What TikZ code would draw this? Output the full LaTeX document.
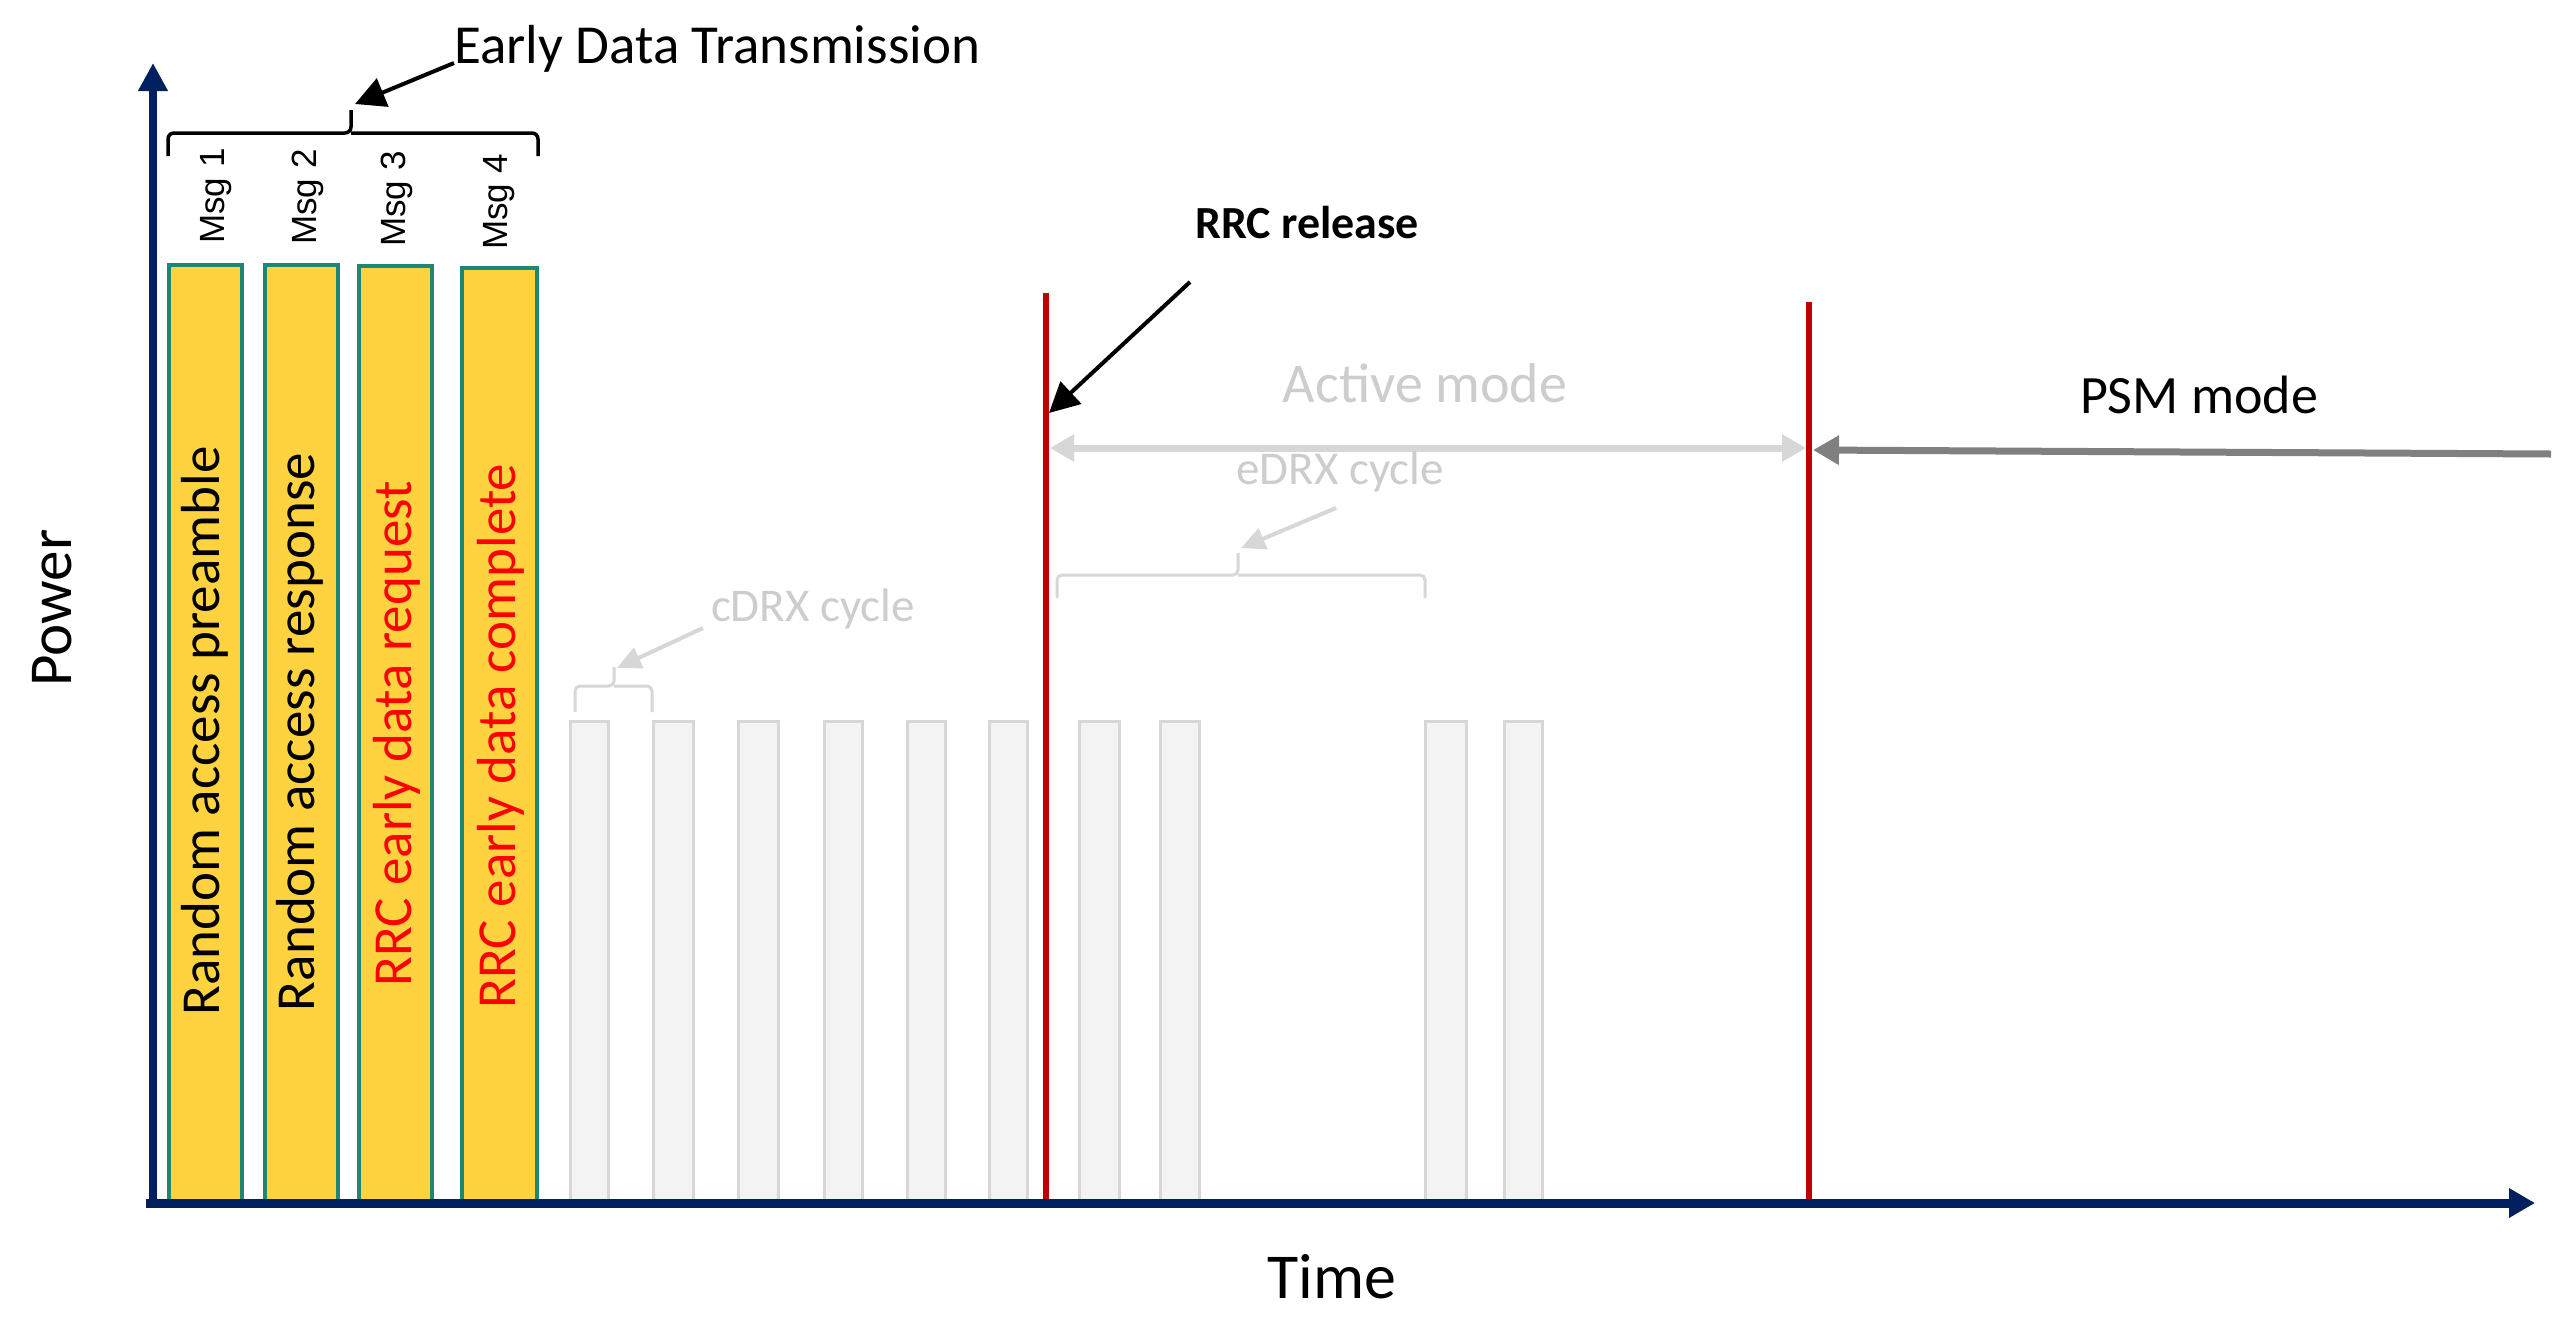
\documentclass[tikz,border=0pt]{standalone}
\usepackage{fontspec}
\setmainfont{Carlito}
\newfontfamily\arialf{Liberation Sans}
\usetikzlibrary{arrows.meta}
\definecolor{navy}{RGB}{0,32,96}
\definecolor{ybar}{RGB}{255,210,64}
\definecolor{tealb}{RGB}{30,135,115}
\definecolor{rrcred}{RGB}{192,0,0}
\definecolor{lgray}{RGB}{215,215,215}
\definecolor{gtext}{RGB}{205,205,205}
\definecolor{gfill}{RGB}{243,243,243}
\definecolor{dgray}{RGB}{128,128,128}
\newcommand\myfs[1]{\fontsize{#1}{#1}\selectfont}
\tikzset{
  yellowbar/.style={draw=tealb, fill=ybar, line width=3.5, inner sep=0, anchor=north west},
  graybar/.style={draw=lgray, fill=gfill, line width=2.5, inner sep=0, anchor=north west, minimum height=483},
  bartext/.style={rotate=90, inner sep=0, font=\myfs{55}},
  msglabel/.style={rotate=90, inner sep=0, font=\arialf\myfs{35}},
  redline/.style={draw=rrcred, line width=5.5},
  blackarrow/.style={draw=black, line width=4, -{Triangle[length=30,width=30]}},
  lightarrow/.style={draw=lgray, line width=4, -{Triangle[length=24,width=22]}},
  brace/.style={draw=black, line width=3.5, rounded corners=6},
  lbrace/.style={draw=lgray, line width=3, rounded corners=5},
  graylabel/.style={text=gtext, inner sep=0}
}
\begin{document}
\begin{tikzpicture}[x=1pt,y=-1pt]
\useasboundingbox (0,0) rectangle (2571,1318);
\fill[white] (0,0) rectangle (2571,1318);

% gray cDRX / eDRX bars
\foreach \xa/\xb [count=\i] in {569/607,652/692,737/777,823/861,906/944,988/1026,1078/1118,1159/1198,1424/1465,1503/1541}{
  \pgfmathsetmacro{\w}{\xb-\xa}
  \node[graybar, minimum width=\w] (g\i) at (\xa,720) {};
}

% yellow message bars
\node[yellowbar, minimum width=73, minimum height=940] (b1) at (167,263) {};
\node[yellowbar, minimum width=73, minimum height=940] (b2) at (263,263) {};
\node[yellowbar, minimum width=73, minimum height=939] (b3) at (357,264) {};
\node[yellowbar, minimum width=75, minimum height=937] (b4) at (460,266) {};
\node[bartext] (t1) at (205,731) {Random access preamble};
\node[bartext] (t2) at (300,732) {Random access response};
\node[bartext, text=red] (t3) at (397,734) {RRC early data request};
\node[bartext, text=red] (t4) at (501,736) {RRC early data complete};

% Msg labels
\node[msglabel] (m1) at (216,196) {Msg 1};
\node[msglabel] (m2) at (308,197) {Msg 2};
\node[msglabel] (m3) at (397,199) {Msg 3};
\node[msglabel] (m4) at (499,202) {Msg 4};

% Early Data Transmission brace and label
\draw[brace] (168,156) |- (351,133) -- (351,110);
\draw[brace] (538,156) |- (351,133);
\coordinate (edtbrace) at (355,104);
\node[anchor=base west, inner sep=0, font=\myfs{55}] (edt) at (454,63) {Early Data Transmission};
\draw[blackarrow] (edt.base west) -- (edtbrace);

% red lines
\coordinate (r1top) at (1046,293);
\coordinate (r1bot) at (1046,1203);
\coordinate (r2top) at (1809,302);
\coordinate (r2bot) at (1809,1203);
\draw[redline] (r1top) -- (r1bot);
\draw[redline] (r2top) -- (r2bot);

% RRC release
\node[anchor=base west, inner sep=0, font=\bfseries\myfs{46}] (rrc) at (1195,238) {RRC release};
\coordinate (rrcfrom) at (1190,282);
\coordinate (rrcto) at (1049,413);
\draw[blackarrow] (rrcfrom) -- (rrcto);

% Active mode
\node[graylabel, font=\myfs{56}] (active) at (1425,383) {Active mode};
\coordinate (actL) at (1050,448);
\coordinate (actR) at (1806,448);
\draw[draw=lgray, line width=7, {Triangle[length=24,width=26]}-{Triangle[length=24,width=26]}] (actL) -- (actR);

% PSM mode
\node[inner sep=0, font=\myfs{54}] (psm) at (2199,395) {PSM mode};
\coordinate (psmfrom) at (2551,454);
\coordinate (psmto) at (1813,450);
\draw[draw=dgray, line width=7, -{Triangle[length=26,width=28]}] (psmfrom) -- (psmto);

% eDRX cycle
\node[graylabel, font=\myfs{47}] (edrx) at (1340,472) {eDRX cycle};
\coordinate (edrxfrom) at (1336,508);
\coordinate (edrxto) at (1241,548);
\draw[lightarrow] (edrxfrom) -- (edrxto);
\draw[lbrace] (1057,598) |- (1238,575) -- (1238,553);
\draw[lbrace] (1425,598) |- (1238,575);

% cDRX cycle
\node[graylabel, font=\myfs{47}] (cdrx) at (813,609) {cDRX cycle};
\coordinate (cdrxfrom) at (703,628);
\coordinate (cdrxto) at (617,668);
\draw[lightarrow] (cdrxfrom) -- (cdrxto);
\draw[lbrace] (575,712) |- (614,686) -- (614,667);
\draw[lbrace] (652,712) |- (614,686);

% axes
\coordinate (ytop) at (153,63);
\coordinate (ybot) at (153,1208);
\coordinate (xstart) at (146,1203);
\coordinate (xend) at (2535,1203);
\draw[navy, line width=8, -{Triangle[length=28,width=28]}] (ybot) -- (ytop);
\draw[navy, line width=9, -{Triangle[length=26,width=28]}] (xstart) -- (xend);
\node[rotate=90, inner sep=0, font=\myfs{61}] (power) at (52,608) {Power};
\node[inner sep=0, font=\myfs{64}] (time) at (1332,1277) {Time};
\end{tikzpicture}
\end{document}
